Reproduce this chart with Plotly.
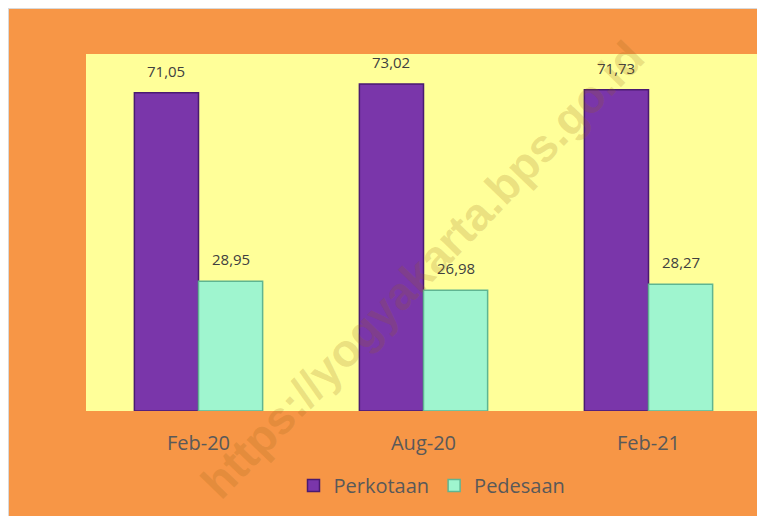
import plotly.graph_objects as go

categories = ["Feb-20", "Aug-20", "Feb-21"]
perkotaan = [71.05, 73.02, 71.73]
pedesaan = [28.95, 26.98, 28.27]
series_names = ["Perkotaan", "Pedesaan"]

def fmt(v):
    return f"{v:.2f}".replace(".", ",")

fig = go.Figure()
fig.add_trace(go.Bar(
    x=categories, y=perkotaan, name=series_names[0],
    marker=dict(color="#7A36AA", line=dict(color="#4A1A70", width=1.5)),
))
fig.add_trace(go.Bar(
    x=categories, y=pedesaan, name=series_names[1],
    marker=dict(color="#9FF5CF", line=dict(color="#5FB592", width=1.5)),
))

# page has an 8px body margin which provides the white border
W, H = 757, 508
ml, mr, mt, mb = 78, 4, 46, 105
pw, ph = W - ml - mr, H - mt - mb

def px_x(x):
    return (x - ml) / pw

def px_y(y):
    return 1 - (y - mt) / ph

shapes = [
    dict(type="rect", xref="paper", yref="paper", x0=px_x(-1), x1=px_x(W), y0=px_y(1), y1=px_y(-1),
         fillcolor="#D9D9D9", line_width=0, layer="below"),
    dict(type="rect", xref="paper", yref="paper", x0=px_x(-1), x1=px_x(1), y0=px_y(H), y1=px_y(-1),
         fillcolor="#D9D9D9", line_width=0, layer="below"),
]

label_font = dict(family="Open Sans, Calibri, sans-serif", size=15, color="#404040")
annotations = []
for c, v in zip(categories, perkotaan):
    annotations.append(dict(x=c, y=v, xref="x", yref="y", text=fmt(v), showarrow=False,
                            xshift=-33, yshift=22, font=label_font))
for c, v in zip(categories, pedesaan):
    annotations.append(dict(x=c, y=v, xref="x", yref="y", text=fmt(v), showarrow=False,
                            xshift=32, yshift=22, font=label_font))
annotations.append(dict(
    text="<b>https://yogyakarta.bps.go.id</b>", xref="paper", yref="paper",
    x=px_x(414), y=px_y(262), showarrow=False, textangle=-46,
    font=dict(family="Liberation Sans, Arial, sans-serif", size=46, color="rgba(150,100,20,0.2)"),
))

fig.update_layout(
    width=W, height=H,
    margin=dict(l=ml, r=mr, t=mt, b=mb),
    paper_bgcolor="#F79646",
    plot_bgcolor="#FFFF99",
    barmode="group",
    bargap=0.43,
    bargroupgap=0,
    showlegend=True,
    legend=dict(orientation="h", x=px_x(424), xanchor="center", y=px_y(458), yanchor="top",
                font=dict(family="Open Sans, Calibri, sans-serif", size=20, color="#595959"),
                bgcolor="rgba(0,0,0,0)", traceorder="normal", itemwidth=30,
                tracegroupgap=0),
    xaxis=dict(showgrid=False, showline=False, ticks="outside", ticklen=14, tickcolor="rgba(0,0,0,0)",
               zeroline=False,
               tickfont=dict(family="Open Sans, Calibri, sans-serif", size=20, color="#595959")),
    yaxis=dict(range=[0, 79.7], visible=False, showgrid=False, zeroline=False),
    shapes=shapes,
    annotations=annotations,
)

fig.write_html("out.html")
